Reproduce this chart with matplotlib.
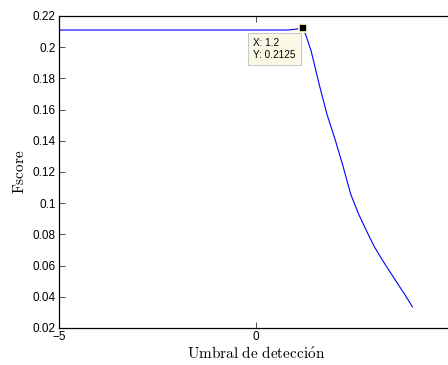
import matplotlib
matplotlib.use("Agg")
import matplotlib.pyplot as plt

# datos
umbral = [-5.0, 0.8, 1.0, 1.2, 1.4, 1.6, 1.8, 2.0, 2.2, 2.4, 2.6, 2.8,
          3.0, 3.2, 3.4, 3.6, 3.8, 3.97]
fscore = [0.2110, 0.2110, 0.2115, 0.2125, 0.1975, 0.1765, 0.1570, 0.1415,
          0.1245, 0.1060, 0.0932, 0.0825, 0.0722, 0.0638, 0.0560, 0.0482,
          0.0405, 0.0335]
tip_x, tip_y = 1.2, 0.2125

xticks = [-5, 0, 5]
yticks = [0.02, 0.04, 0.06, 0.08, 0.1, 0.12, 0.14, 0.16, 0.18, 0.2, 0.22]

plt.rcParams["font.family"] = ["Liberation Sans", "DejaVu Sans"]
plt.rcParams["mathtext.fontset"] = "cm"

fig = plt.figure(figsize=(4.48, 3.65), dpi=100)
ax = fig.add_axes([0.1317, 0.1014, 0.8795, 0.8548])

ax.plot(umbral, fscore, color=(0, 0, 1), lw=0.8)
ax.plot([tip_x], [tip_y], ls="none", marker="s", ms=6,
        mfc="black", mec="#fffbd0", mew=1.2, zorder=5)
ax.annotate("X: 1.2\nY: 0.2125", xy=(tip_x, tip_y), xytext=(-50, -10),
            textcoords="offset pixels", ha="left", va="top", fontsize=7.2,
            linespacing=1.35, multialignment="left",
            bbox=dict(boxstyle="square,pad=0.5", fc="#fbf9e6", ec="#c8c8c8",
                      lw=0.8))

ax.set_xlim(-5, 5)
ax.set_ylim(0.02, 0.22)
ax.set_xticks(xticks)
# la etiqueta "5" queda fuera de la imagen en el original
ax.set_xticklabels(["\u22125", "0", ""])
ax.set_yticks(yticks)
ax.set_yticklabels(["0.02", "0.04", "0.06", "0.08", "0.1", "0.12", "0.14",
                    "0.16", "0.18", "0.2", "0.22"])
ax.tick_params(direction="in", length=4, width=0.6, labelsize=8.5, pad=2.5,
               top=True, right=False, color="#333333")
for s in ax.spines.values():
    s.set_linewidth(0.9)
ax.spines["right"].set_visible(False)

ax.set_xlabel(r"$\mathrm{Umbral\ de\ detecci\acute{o}n}$", fontsize=11,
              labelpad=1)
ax.set_ylabel(r"$\mathrm{Fscore}$", fontsize=11, labelpad=4)

fig.savefig("out.png", dpi=100)
